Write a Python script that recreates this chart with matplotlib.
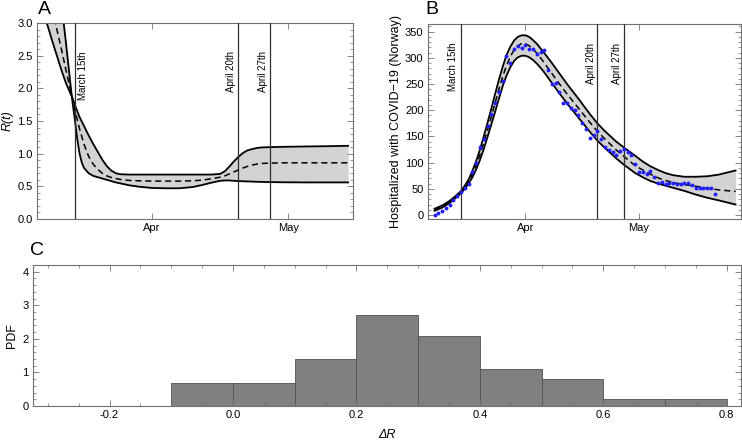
import matplotlib
matplotlib.use("Agg")
import matplotlib.pyplot as plt
from matplotlib.ticker import MultipleLocator, FixedLocator
import numpy as np

plt.rcParams['font.family'] = ['Liberation Sans', 'DejaVu Sans']
plt.rcParams['axes.unicode_minus'] = False

# x positions are days since March 1st 2020
tick_days = [31, 61]
tick_names = ["Apr", "May"]
event_days = [14, 50, 57]
event_names = ["March 15th", "April 20th", "April 27th"]

# panel A: R(t) band (two band edges cross just before March 15th)
days_a = [6, 7, 8, 9, 10, 11, 12, 13, 13.5, 14, 14.5, 15, 15.5, 16, 17, 18, 19, 20, 21, 22, 23, 24,
          26, 28, 31, 34, 37, 40, 42, 44, 46, 47, 48, 49, 50, 51, 52, 53, 54, 55, 57, 60, 65, 70, 74.2]
r_edge1 = [3.35, 3.15, 2.95, 2.72, 2.5, 2.28, 2.08, 1.92, 1.84, 1.74, 1.65, 1.56, 1.49, 1.42, 1.28, 1.15,
           1.03, 0.91, 0.81, 0.74, 0.70, 0.685, 0.68, 0.68, 0.68, 0.68, 0.68, 0.68, 0.68, 0.68, 0.69, 0.73,
           0.80, 0.88, 0.95, 1.01, 1.05, 1.07, 1.085, 1.095, 1.10, 1.105, 1.11, 1.115, 1.12]
r_edge2 = [6.0, 5.4, 4.8, 4.2, 3.9, 3.3, 2.7, 2.06, 1.76, 1.5, 1.22, 1.0, 0.86, 0.78, 0.70, 0.66,
           0.64, 0.62, 0.60, 0.58, 0.56, 0.545, 0.515, 0.495, 0.475, 0.47, 0.47, 0.49, 0.52, 0.555, 0.585, 0.59,
           0.59, 0.585, 0.58, 0.578, 0.575, 0.573, 0.57, 0.568, 0.565, 0.562, 0.56, 0.56, 0.56]
r_median = [4.2, 3.85, 3.5, 3.2, 2.9, 2.6, 2.28, 1.97, 1.82, 1.66, 1.52, 1.38, 1.26, 1.14, 0.96, 0.84,
            0.76, 0.70, 0.66, 0.635, 0.62, 0.605, 0.59, 0.585, 0.58, 0.58, 0.58, 0.585, 0.595, 0.615, 0.64, 0.66,
            0.69, 0.72, 0.75, 0.78, 0.805, 0.825, 0.84, 0.85, 0.855, 0.86, 0.86, 0.86, 0.86]

# panel B: model band and hospital data
days_b = [7, 9, 11, 13, 14, 15, 16, 17, 18, 19, 20, 21, 22, 23, 24, 25, 26, 27, 28, 29, 30, 31, 32, 33,
          34, 35, 36, 38, 40, 42, 45, 48, 50, 52, 55, 57, 60, 62, 64, 66, 68, 70, 73, 76, 79, 82, 86.5]
h_median = [10, 16, 25, 37, 44, 53, 64, 78, 95, 115, 138, 162, 188, 214, 240, 264, 285, 302, 315, 323,
            327, 327, 323, 317, 309, 300, 290, 270, 250, 231, 204, 177, 160, 145, 124, 112, 94, 86, 78,
            71, 66, 62, 58, 55, 51, 48, 45]
h_upper = [12, 18, 27, 39, 46, 56, 68, 84, 103, 125, 150, 176, 203, 231, 258, 283, 305, 321, 333, 340,
           343, 343, 340, 334, 327, 318, 309, 290, 270, 250, 222, 193, 175, 160, 140, 129, 113, 102, 93,
           86, 80, 76, 73, 73, 74, 77, 85]
h_lower = [8, 14, 23, 35, 42, 50, 60, 72, 87, 105, 126, 149, 173, 197, 222, 246, 266, 282, 294, 301,
           304, 304, 301, 296, 289, 281, 272, 252, 232, 213, 186, 159, 142, 128, 108, 96, 80, 72, 65,
           60, 56, 52, 46, 39, 33, 28, 20]

first_data_day = 7
hospitalized = [0, 3, 8, 13, 20, 29, 36, 43, 51, 60, 83, 100, 130, 146, 170, 193, 213, 235, 255,
                303, 290, 317, 322, 318, 325, 317, 317, 307, 311, 315, 277, 250, 252, 234, 213, 213,
                205, 200, 190, 175, 165, 147, 153, 160, 145, 130, 124, 120, 114, 122, 126, 120, 115,
                98, 83, 82, 79, 84, 72, 62, 63, 60, 61, 61, 60, 60, 61, 61, 57, 52, 52, 52, 52, 52, 41]

# panel C: histogram of delta R
bin_edges = [-0.1, 0.0, 0.1, 0.2, 0.3, 0.4, 0.5, 0.6, 0.7, 0.8]
pdf_values = [0.7, 0.7, 1.4, 2.7, 2.1, 1.1, 0.8, 0.2, 0.2]

W, H = 742, 443
fig = plt.figure(figsize=(W / 100, H / 100), dpi=100)


def box(l, t, r, b):
    return [l / W, 1 - b / H, (r - l) / W, (b - t) / H]


def frame(ax):
    for s in ax.spines.values():
        s.set_color('#707070')
        s.set_linewidth(0.8)
    ax.tick_params(which='both', direction='in', top=True, right=True,
                   color='#707070', labelcolor='black', labelsize=8, pad=3)
    ax.tick_params(which='major', length=4, width=0.6)
    ax.tick_params(which='minor', length=2, width=0.5)


def events(ax, ytop, offsets):
    for d, name, off in zip(event_days, event_names, offsets):
        ax.axvline(d, color='#303030', lw=0.9, zorder=3)
        ax.annotate(name, xy=(d, ytop), xycoords=('data', 'axes fraction'),
                    xytext=(off, 0), textcoords='offset points', rotation=90,
                    ha='left' if off > 0 else 'right', va='top', fontsize=7,
                    family=['Liberation Sans Narrow', 'Liberation Sans'])


# ---- A
axA = fig.add_axes(box(37, 23, 353, 219))
axA.fill_between(days_a, r_edge1, r_edge2, color='#d3d3d3', lw=0, zorder=1)
axA.plot(days_a, r_edge1, color='black', lw=1.3, zorder=2)
axA.plot(days_a, r_edge2, color='black', lw=1.3, zorder=2)
axA.plot(days_a, r_median, color='black', lw=1.1, dashes=(4, 2.5), zorder=2)
events(axA, 0.855, [2.5, -1.5, -1.5])
axA.set_xlim(5.62, 75.27)
axA.set_ylim(0, 3)
axA.xaxis.set_major_locator(FixedLocator(tick_days))
axA.set_xticklabels(tick_names)
axA.yaxis.set_major_locator(MultipleLocator(0.5))
axA.yaxis.set_minor_locator(MultipleLocator(0.1))
axA.yaxis.set_major_formatter(matplotlib.ticker.FormatStrFormatter('%.1f'))
frame(axA)
axA.set_ylabel('R(t)', style='italic', fontsize=9, labelpad=3)

# ---- B
axB = fig.add_axes(box(427.7, 24.3, 740.7, 219))
axB.fill_between(days_b, h_lower, h_upper, color='#d3d3d3', lw=0, zorder=1)
axB.plot(days_b, h_upper, color='black', lw=1.3, zorder=2)
axB.plot(days_b, h_lower, color='black', lw=1.3, zorder=2)
axB.plot(days_b, h_median, color='black', lw=1.1, dashes=(4, 2.5), zorder=2)
data_days = np.arange(first_data_day, first_data_day + len(hospitalized))
axB.plot(data_days, hospitalized, 'o', color='#1f1fff', ms=2.8, mew=0, zorder=4)
events(axB, 0.905, [-2.5, -1, -1.5])
axB.set_xlim(5.2, 87.85)
axB.set_ylim(-7.6, 364)
axB.xaxis.set_major_locator(FixedLocator(tick_days))
axB.set_xticklabels(tick_names)
axB.yaxis.set_major_locator(MultipleLocator(50))
axB.yaxis.set_minor_locator(MultipleLocator(10))
frame(axB)
axB.set_ylabel('Hospitalized with COVID\u221219 (Norway)', fontsize=9, labelpad=2)

# ---- C
axC = fig.add_axes(box(33, 265, 741, 406))
axC.bar(bin_edges[:-1], pdf_values, width=np.diff(bin_edges), align='edge',
        color='#808080', edgecolor='#505050', lw=0.6)
axC.set_xlim(-0.324, 0.823)
axC.set_ylim(0, 4.2)
axC.xaxis.set_major_locator(MultipleLocator(0.2))
axC.xaxis.set_minor_locator(MultipleLocator(0.05))
axC.xaxis.set_major_formatter(matplotlib.ticker.FormatStrFormatter('%.1f'))
axC.yaxis.set_major_locator(MultipleLocator(1))
axC.yaxis.set_minor_locator(MultipleLocator(0.2))
frame(axC)
axC.set_ylabel('PDF', fontsize=9, labelpad=3)
axC.set_xlabel('\u0394R', style='italic', fontsize=9, labelpad=6)

fig.text(38 / W, 1 - 1 / H, 'A', fontsize=14, va='top', ha='left')
fig.text(425 / W, 1 - 1 / H, 'B', fontsize=14, va='top', ha='left')
fig.text(30 / W, 1 - 242 / H, 'C', fontsize=14, va='top', ha='left')

fig.savefig('out.png', dpi=100)
